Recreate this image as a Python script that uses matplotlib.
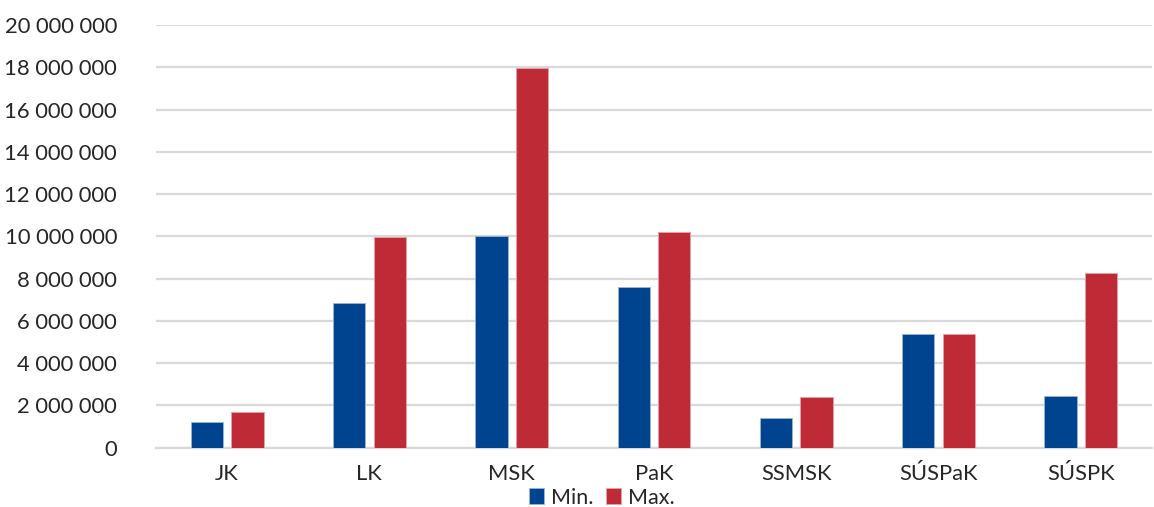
import matplotlib
matplotlib.use("Agg")
import matplotlib.pyplot as plt
import numpy as np
from matplotlib.ticker import FuncFormatter

kraje = ['JK', 'LK', 'MSK', 'PaK', 'SSMSK', 'SÚSPaK', 'SÚSPK']
minimum = [1200000, 6860000, 10020000, 7620000, 1420000, 5370000, 2450000]
maximum = [1670000, 9970000, 17950000, 10190000, 2400000, 5370000, 8250000]

modra = '#00438F'
cervena = '#BE2A35'

plt.rcParams['font.family'] = ['Lato', 'DejaVu Sans']

fig = plt.figure(figsize=(11.54, 5.07), dpi=100)
ax = fig.add_axes([156 / 1154, 59.3 / 507, (1152 - 156) / 1154, (447.7 - 25) / 507])

x = np.arange(len(kraje))
w = 0.227
posun = 0.1425
ax.bar(x - posun, minimum, w, color=modra, edgecolor='#9db4d4', linewidth=0.6, label='Min.', zorder=3)
ax.bar(x + posun, maximum, w, color=cervena, edgecolor='#e7a3a8', linewidth=0.6, label='Max.', zorder=3)

ax.set_xlim(-0.5, len(kraje) - 0.5)
ax.set_ylim(0, 20000000)
ax.set_yticks(np.arange(0, 20000001, 2000000))
ax.yaxis.set_major_formatter(FuncFormatter(lambda v, p: f'{int(v):,}'.replace(',', ' ')))
ax.set_xticks(x)
ax.set_xticklabels(kraje)

ax.grid(axis='y', color='#d9d9d9', linewidth=1.6, zorder=0)
for s in ['top', 'right', 'left']:
    ax.spines[s].set_visible(False)
ax.spines['bottom'].set_color('#d9d9d9')
ax.spines['bottom'].set_linewidth(1.6)
ax.tick_params(axis='both', length=0, labelsize=15.8, colors='#262626')
ax.tick_params(axis='y', pad=28)
ax.tick_params(axis='x', pad=12)

fig.legend(loc='center', bbox_to_anchor=(602 / 1154, 1 - 497.5 / 507), ncol=2, frameon=False,
           fontsize=15.5, handlelength=0.7, handleheight=0.7, handletextpad=0.3,
           columnspacing=0.6, borderpad=0, labelcolor='#262626')

fig.savefig('out.png', dpi=100)
